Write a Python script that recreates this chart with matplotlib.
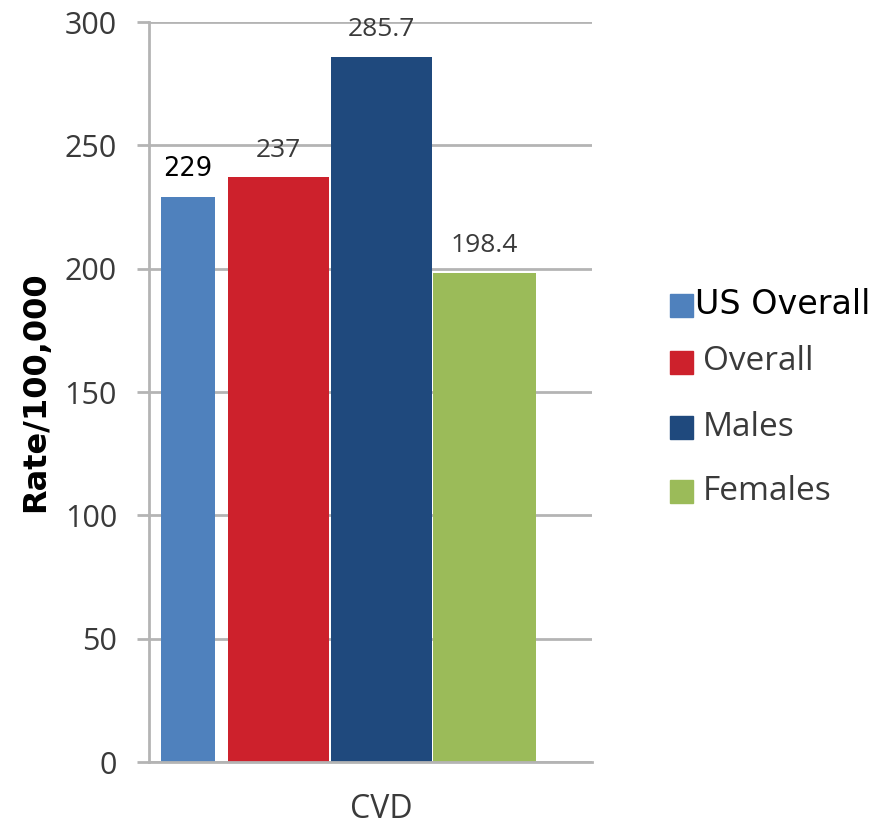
import matplotlib.pyplot as plt
from matplotlib.patches import Rectangle

# values (rate per 100,000)
labels = ["US Overall", "Overall", "Males", "Females"]
values = [229, 237, 285.7, 198.4]
value_text = ["229", "237", "285.7", "198.4"]
colors = ["#4F81BD", "#CD212C", "#1F497D", "#9BBB59"]
x_pos = [0.088, 0.292, 0.525, 0.757]
widths = [0.122, 0.228, 0.228, 0.232]
category = "CVD"
yticks = [0, 50, 100, 150, 200, 250, 300]

W, H = 889, 826
fig = plt.figure(figsize=(W / 100, H / 100), dpi=100)
ax = fig.add_axes([149 / W, (H - 762) / H, 443 / W, 740 / H])

grid_c = "#b4b4b4"
txt_c = "#3a3a3a"
ax.set_xlim(0, 1)
ax.set_ylim(0, 300)
ax.set_yticks(yticks)
ax.yaxis.grid(True, color=grid_c, linewidth=2)
ax.set_axisbelow(True)
for s in ["top", "right"]:
    ax.spines[s].set_visible(False)
for s in ["left", "bottom"]:
    ax.spines[s].set_color(grid_c)
    ax.spines[s].set_linewidth(2)
ax.tick_params(axis="y", length=9, width=2, color=grid_c, pad=14,
               labelsize=22, labelcolor=txt_c)
for t in ax.get_yticklabels():
    t.set_fontfamily("Open Sans")

ax.set_xticks([x_pos[2]])
ax.set_xticklabels([category], fontfamily="Open Sans", fontsize=23, color=txt_c)
ax.tick_params(axis="x", length=0, pad=22)

for i in range(len(values)):
    ax.bar(x_pos[i], values[i], width=widths[i], color=colors[i], zorder=2)
    if i == 0:
        ax.text(x_pos[i], values[i] + 6, value_text[i], ha="center", va="bottom",
                fontsize=18.5, fontfamily="DejaVu Sans", color="black")
    else:
        ax.text(x_pos[i], values[i] + 6, value_text[i], ha="center", va="bottom",
                fontsize=19, fontfamily="Open Sans", color=txt_c)

ax.set_ylabel("Rate/100,000", fontsize=23, fontweight="bold", color="black",
              labelpad=10)

# legend drawn by hand
leg_y = [305, 362, 427, 491]
for i in range(len(labels)):
    y = leg_y[i]
    fig.patches.append(Rectangle((670 / W, (H - y - 12) / H), 23 / W, 23 / H,
                                 transform=fig.transFigure, color=colors[i]))
    if i == 0:
        fig.text(695 / W, (H - y) / H, labels[i], fontsize=24,
                 fontfamily="DejaVu Sans", color="black", va="center")
    else:
        fig.text(703 / W, (H - y) / H, labels[i], fontsize=24,
                 fontfamily="Open Sans", color=txt_c, va="center")

fig.savefig("out.png", dpi=100)
